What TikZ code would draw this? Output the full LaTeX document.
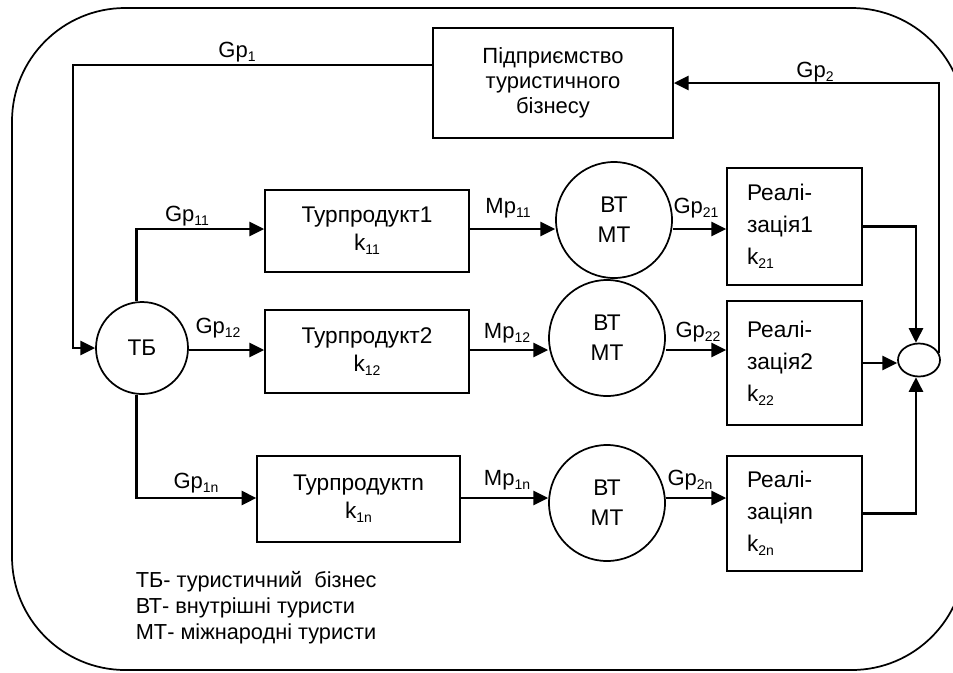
\documentclass[tikz,border=0pt]{standalone}
\usepackage{fontspec}
\setmainfont{Liberation Sans}
\usetikzlibrary{arrows.meta,shapes.geometric}

\newcommand\fsbox{\fontsize{17}{21}\selectfont}
\newcommand\fsfirm{\fontsize{16.5}{18.75}\selectfont}
\newcommand\fsreal{\fontsize{17}{24}\selectfont}
\newcommand\fscirc{\fontsize{17}{22.5}\selectfont}
\newcommand\fslab{\fontsize{16.5}{18}\selectfont}
\newcommand\fsleg{\fontsize{16.3}{19.5}\selectfont}
\newcommand\low[1]{\raisebox{-0.35ex}{\fontsize{10.5}{12}\selectfont #1}}

\tikzset{
  arr/.style={-{Triangle[length=11pt,width=10.5pt]},line width=1.9pt},
  box/.style={draw,minimum width=153pt,minimum height=62pt,align=center,font=\fsbox},
  firmbox/.style={draw,minimum width=180pt,minimum height=82.5pt,align=center,font=\fsfirm},
  realbox/.style={draw,minimum width=101.25pt,inner xsep=15pt,text width=71.25pt,align=left,font=\fsreal},
  circ/.style={draw,circle,inner sep=0pt,align=center,font=\fscirc},
  sumnode/.style={draw,ellipse,inner sep=0pt,minimum width=31.5pt,minimum height=24.75pt},
  lab/.style={inner sep=0pt,font=\fslab}
}

\begin{document}
\begin{tikzpicture}[x=0.75pt,y=-0.75pt,line width=1.3pt]
    \useasboundingbox (0,0) rectangle (953,672);
    % outer frame
    \draw[rounded corners=85pt] (12,8) rectangle (965,670);

    % blocks
    \node[firmbox] (firm) at (553,83) {Підприємство\\туристичного\\бізнесу};
    \node[circ,minimum size=69pt] (tb) at (142,348) {ТБ};
    \node[box] (box1) at (367,231) {Турпродукт1\\k\low{11}};
    \node[box] (box2) at (367,351.5) {Турпродукт2\\k\low{12}};
    \node[box,minimum width=152pt,minimum height=64.5pt] (boxn) at (358.5,499) {Турпродуктn\\k\low{1n}};
    \foreach \i/\xc/\yc/\yr/\h in {1/614/220/226.5/87.75, 2/607/338/363/93, n/607/503/513.5/86.25} {
      \node[circ,minimum size=87pt] (vm\i) at (\xc,\yc) {ВТ\\МТ};
      \node[realbox,minimum height=\h pt] (real\i) at (794.5,\yr) {Реалі-\\зація\i\\k\low{2\i}};
    }
    \node[sumnode] (sum) at (919,360) {};

    % rows of the flows
    \foreach \i/\yy in {1/229, 2/350, n/498}
      \coordinate (row\i) at (0,\yy);
    \coordinate (fb) at (73,65);

    % connectors
    \draw[arr] (firm.west |- fb) -- (fb) |- (tb.west);
    \draw[arr] (tb.97) |- (box1.west |- row1);
    \draw[arr] (tb.east |- row2) -- (box2.west |- row2);
    \draw[arr] (tb.263) |- (boxn.west |- rown);
    \foreach \i in {1,2,n} {
      \draw[arr] (box\i.east |- row\i) -- (vm\i.west |- row\i);
      \draw[arr] (vm\i.east |- row\i) -- (real\i.west |- row\i);
    }
    \draw[arr] (real1.east) -| (sum.100);
    \draw[arr] (real2.east) -- (real2.east -| sum.west);
    \draw[arr] (realn.east) -| (sum.260);
    \draw[arr] (sum.20) |- (firm.east);

    % flow labels
    \node[lab] (lgp1) at (237,52) {Gp\low{1}};
    \node[lab] (lgp2) at (815,72) {Gp\low{2}};
    \node[lab] (lgp11) at (187,216) {Gp\low{11}};
    \node[lab] (lgp12) at (218,328) {Gp\low{12}};
    \node[lab] (lgp1n) at (196,483) {Gp\low{1n}};
    \node[lab] (lmp11) at (508,208) {Mp\low{11}};
    \node[lab] (lmp12) at (507,333) {Mp\low{12}};
    \node[lab] (lmp1n) at (507,480) {Mp\low{1n}};
    \node[lab] (lgp21) at (696,208) {Gp\low{21}};
    \node[lab] (lgp22) at (698,332) {Gp\low{22}};
    \node[lab] (lgp2n) at (690,480) {Gp\low{2n}};

    % legend
    \node[anchor=west,inner sep=0pt,align=left,font=\fsleg] (legend) at (135,608)
      {ТБ- туристичний\ \ бізнес\\ВТ- внутрішні туристи\\МТ- міжнародні туристи};
\end{tikzpicture}
\end{document}
